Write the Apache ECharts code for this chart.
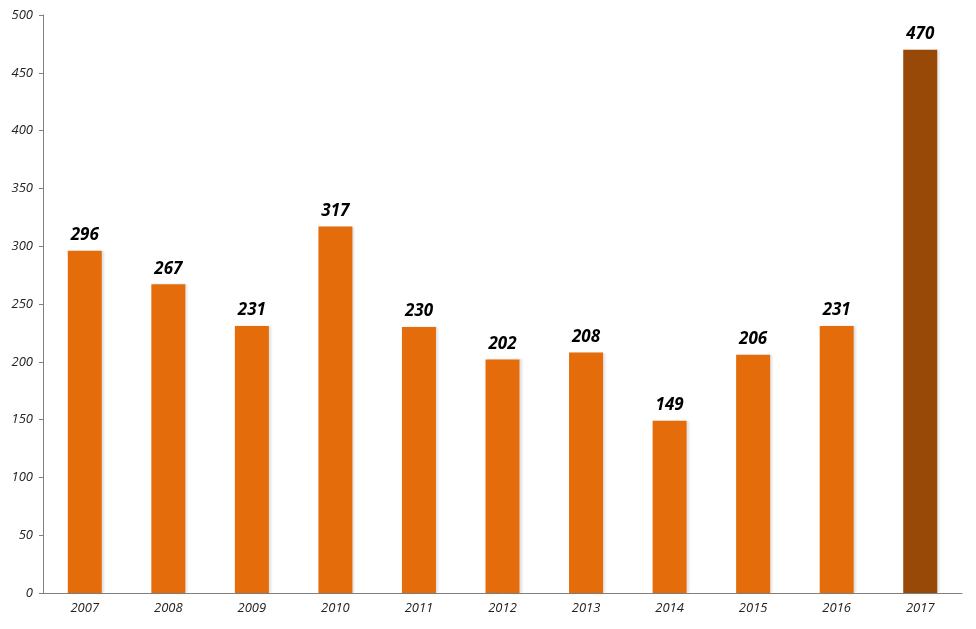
<!DOCTYPE html>
<html>
<head>
<meta charset="utf-8">
<script src="https://cdn.jsdelivr.net/npm/echarts@6/dist/echarts.min.js"></script>
<style>
  html, body { margin: 0; padding: 0; background: #fff; }
  #chart { width: 976px; height: 629px; }
</style>
</head>
<body>
<div id="chart"></div>
<script>
const years = ['2007', '2008', '2009', '2010', '2011', '2012', '2013', '2014', '2015', '2016', '2017']
const counts = [296, 267, 231, 317, 230, 202, 208, 149, 206, 231, 470]
const yTicks = [0, 50, 100, 150, 200, 250, 300, 350, 400, 450, 500]

const orange = '#E46C0A'
const brown = '#984807'

const chart = echarts.init(document.getElementById('chart'))

// last year is highlighted in a darker colour
const barData = counts.map((v, i) => ({
  value: v,
  itemStyle: { color: i === counts.length - 1 ? brown : orange }
}))

const option = {
  animation: false,
  grid: { left: 43, right: 14, top: 15, bottom: 36 },
  xAxis: {
    type: 'category',
    data: years,
    axisLine: { lineStyle: { color: '#808080' } },
    axisTick: { length: 5, lineStyle: { color: '#808080' } },
    axisLabel: {
      color: '#222',
      fontFamily: 'Open Sans',
      fontStyle: 'italic',
      fontSize: 13,
      margin: 9
    }
  },
  yAxis: {
    type: 'value',
    min: yTicks[0],
    max: yTicks[yTicks.length - 1],
    interval: 50,
    axisLine: { show: true, lineStyle: { color: '#808080' } },
    axisTick: { show: true, length: 4, lineStyle: { color: '#808080' } },
    splitLine: { show: false },
    axisLabel: {
      color: '#222',
      fontFamily: 'Open Sans',
      fontStyle: 'italic',
      fontSize: 13,
      margin: 10
    }
  },
  series: [{
    type: 'bar',
    data: barData,
    barWidth: 34,
    itemStyle: {
      shadowColor: 'rgba(0,0,0,0.12)',
      shadowOffsetX: 2,
      shadowBlur: 2
    },
    label: {
      show: true,
      position: 'top',
      distance: 7,
      color: '#000',
      fontFamily: 'Open Sans',
      fontStyle: 'italic',
      fontWeight: 'bold',
      fontSize: 17
    }
  }]
}

chart.setOption(option)
</script>
</body>
</html>
